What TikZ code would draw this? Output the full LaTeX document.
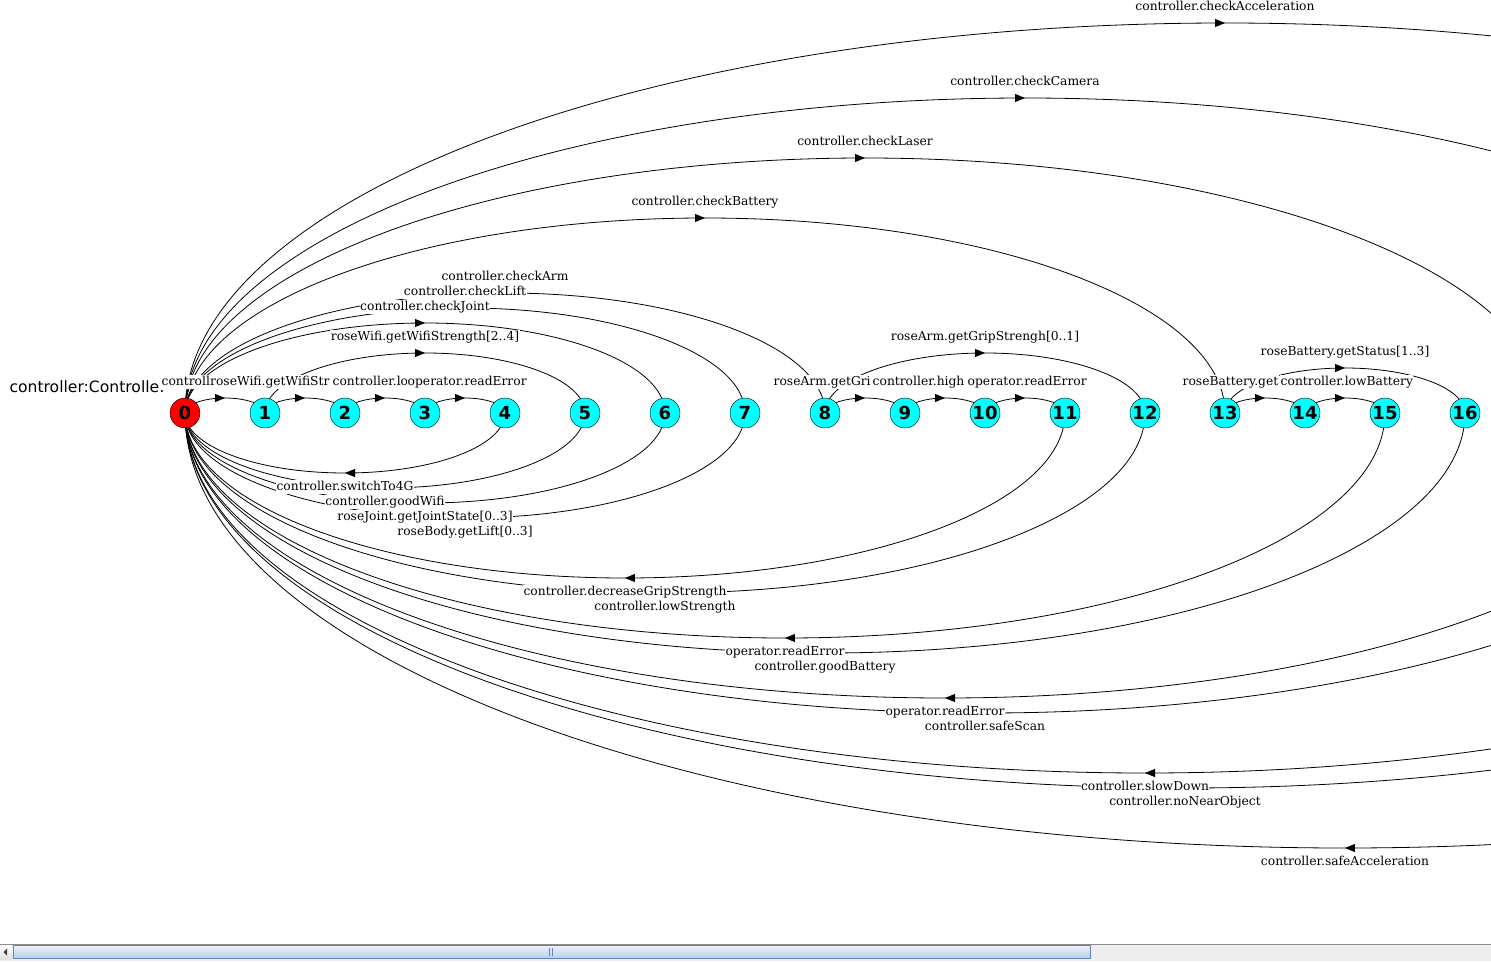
\documentclass[tikz,border=0pt]{standalone}
\usepackage{fontspec}
\setmainfont{DejaVu Serif}
\newfontfamily\statefont{DejaVu Sans}
\usepackage{tikz}
\usetikzlibrary{arrows.meta,decorations.markings,calc}
\pgfdeclarelayer{background}
\pgfsetlayers{background,main}
\definecolor{statecyan}{RGB}{0,255,255}
\definecolor{thumbtop}{RGB}{236,242,250}
\definecolor{thumbbot}{RGB}{184,207,229}
\definecolor{thumbedge}{RGB}{99,130,191}
\definecolor{trackgray}{RGB}{238,238,238}
\tikzset{
  state/.style={circle,draw=black,fill=statecyan,minimum size=30pt,inner sep=0pt,
    font=\statefont\bfseries\fontsize{18}{18}\selectfont},
  lbl/.style={fill=white,inner xsep=0.5pt,inner ysep=1pt,text height=9pt,text depth=2.5pt,
    font=\fontsize{12.3}{12.3}\selectfont},
  midarrow/.style={postaction={decorate},decoration={markings,
    mark=at position 0.5 with {\arrow{Triangle[length=10pt,width=8pt]}}}},
  arcup/.style={midarrow,line width=0.8pt,to path={let \p1=(\tikztostart),\p2=(\tikztotarget),
    \n1={0.5*abs(\x2-\x1)} in arc[start angle=180,end angle=0,x radius=\n1,y radius=0.375*\n1]}},
  arcdn/.style={midarrow,line width=0.8pt,to path={let \p1=(\tikztostart),\p2=(\tikztotarget),
    \n1={0.5*abs(\x2-\x1)} in arc[start angle=0,end angle=-180,x radius=\n1,y radius=0.375*\n1]}}
}
\begin{document}
\begin{tikzpicture}[x=1pt,y=-1pt]
\useasboundingbox (0,0) rectangle (1491,961);
% states of controller
\node[state,fill=red] (n0) at (185,413) {0};
\node[state] (n1) at (265,413) {1}; \node[state] (n2) at (345,413) {2};
\node[state] (n3) at (425,413) {3}; \node[state] (n4) at (505,413) {4};
\node[state] (n5) at (585,413) {5}; \node[state] (n6) at (665,413) {6};
\node[state] (n7) at (745,413) {7}; \node[state] (n8) at (825,413) {8};
\node[state] (n9) at (905,413) {9}; \node[state] (n10) at (985,413) {10};
\node[state] (n11) at (1065,413) {11}; \node[state] (n12) at (1145,413) {12};
\node[state] (n13) at (1225,413) {13}; \node[state] (n14) at (1305,413) {14};
\node[state] (n15) at (1385,413) {15}; \node[state] (n16) at (1465,413) {16};
% states past the right edge
\coordinate (n17) at (1545,413); \coordinate (n19) at (1705,413);
\coordinate (n20) at (1785,413); \coordinate (n21) at (1865,413);
\coordinate (n24) at (2105,413); \coordinate (n25) at (2185,413);
\coordinate (n26) at (2265,413); \coordinate (n29) at (2505,413);
\node[anchor=west,font=\statefont\fontsize{15.6}{15.6}\selectfont] (title) at (6,387) {controller:Controlle:};

\begin{pgfonlayer}{background}
% transitions above
\draw[arcup] (n0) to (n1); \draw[arcup] (n1) to (n2); \draw[arcup] (n2) to (n3); \draw[arcup] (n3) to (n4);
\draw[arcup] (n1) to (n5);
\draw[arcup] (n0) to (n6); \draw[arcup] (n0) to (n7); \draw[arcup] (n0) to (n8);
\draw[arcup] (n8) to (n9); \draw[arcup] (n9) to (n10); \draw[arcup] (n10) to (n11);
\draw[arcup] (n8) to (n12);
\draw[arcup] (n0) to (n13);
\draw[arcup] (n13) to (n14); \draw[arcup] (n14) to (n15);
\draw[arcup] (n13) to (n16);
\draw[arcup] (n0) to (n17); \draw[arcup] (n0) to (n21); \draw[arcup] (n0) to (n26);
% transitions back to 0
\draw[arcdn] (n4) to (n0); \draw[arcdn] (n5) to (n0); \draw[arcdn] (n6) to (n0); \draw[arcdn] (n7) to (n0);
\draw[arcdn] (n11) to (n0); \draw[arcdn] (n12) to (n0);
\draw[arcdn] (n15) to (n0); \draw[arcdn] (n16) to (n0);
\draw[arcdn] (n19) to (n0); \draw[arcdn] (n20) to (n0);
\draw[arcdn] (n24) to (n0); \draw[arcdn] (n25) to (n0);
\draw[arcdn] (n29) to (n0);
\end{pgfonlayer}

% labels above
\node[lbl] (lacc) at (1225,7) {controller.checkAcceleration};
\node[lbl] (lcam) at (1025,82) {controller.checkCamera};
\node[lbl] (llas) at (865,142) {controller.checkLaser};
\node[lbl] (lbat) at (705,202) {controller.checkBattery};
\node[lbl] (larm) at (505,277) {controller.checkArm};
\node[lbl] (llift) at (465,292) {controller.checkLift};
\node[lbl] (ljoint) at (425,307) {controller.checkJoint};
\node[lbl] (lwifi) at (425,337) {roseWifi.getWifiStrength[2..4]};
\node[lbl] (lgrip) at (985,337) {roseArm.getGripStrengh[0..1]};
\node[lbl] (lstat) at (1345,352) {roseBattery.getStatus[1..3]};
\node[lbl,anchor=west] (l01) at (161,382) {controll};
\node[lbl,anchor=west] (l12) at (209.5,382) {roseWifi.getWifiStr};
\node[lbl,anchor=west] (l23) at (332,382) {controller.lo};
\node[lbl,anchor=west] (l34) at (407,382) {operator.readError};
\node[lbl,anchor=west] (l89) at (773,382) {roseArm.getGri};
\node[lbl,anchor=west] (l910) at (872,382) {controller.high};
\node[lbl,anchor=west] (l1011) at (967,382) {operator.readError};
\node[lbl,anchor=west] (l1314) at (1182,382) {roseBattery.get};
\node[lbl,anchor=west] (l1415) at (1280,382) {controller.lowBattery};
% labels below
\node[lbl] (l40) at (345,487) {controller.switchTo4G};
\node[lbl] (l50) at (385,502) {controller.goodWifi};
\node[lbl] (l60) at (425,517) {roseJoint.getJointState[0..3]};
\node[lbl] (l70) at (465,532) {roseBody.getLift[0..3]};
\node[lbl] (l110) at (625,592) {controller.decreaseGripStrength};
\node[lbl] (l120) at (665,607) {controller.lowStrength};
\node[lbl] (l150) at (785,652) {operator.readError};
\node[lbl] (l160) at (825,667) {controller.goodBattery};
\node[lbl] (l190) at (945,712) {operator.readError};
\node[lbl] (l200) at (985,727) {controller.safeScan};
\node[lbl] (l240) at (1145,787) {controller.slowDown};
\node[lbl] (l250) at (1185,802) {controller.noNearObject};
\node[lbl] (l290) at (1345,862) {controller.safeAcceleration};

% scroll bar
\fill[trackgray] (0,944) rectangle (1491,961);
\draw[black!45] (0,944.5) -- (1491,944.5);
\shade[top color=white,bottom color=black!12] (0,945) rectangle (12,959);
\fill[black!75] (7,948.5) -- (3.5,952) -- (7,955.5) -- cycle;
\shadedraw[top color=thumbtop,middle color=white,bottom color=thumbbot,draw=thumbedge] (13,945.5) rectangle (1090,958.5);
\draw[thumbedge] (549.5,948) -- (549.5,956) (552.5,948) -- (552.5,956);
\end{tikzpicture}
\end{document}
